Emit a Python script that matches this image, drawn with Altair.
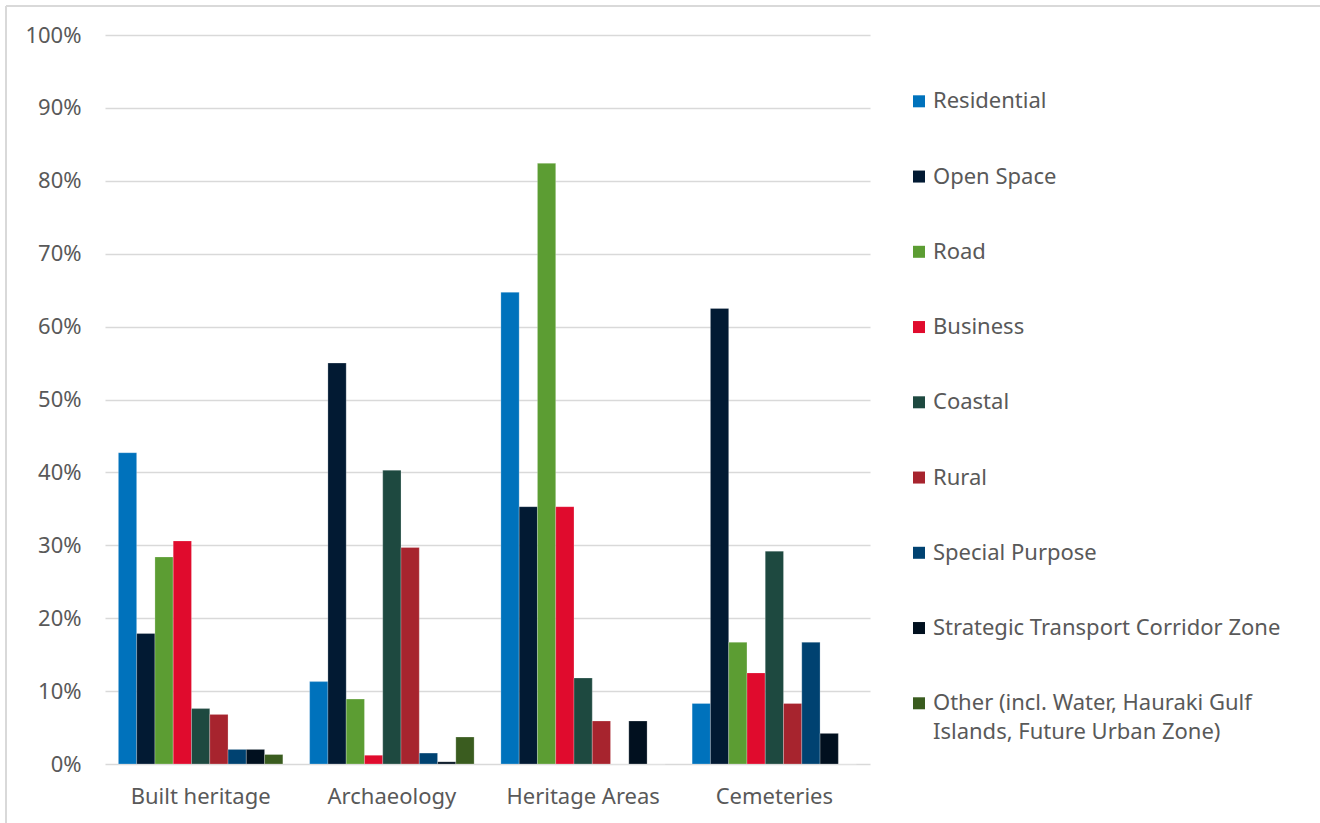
import altair as alt
import pandas as pd

FONT = "Noto Sans"
FONT_SIZE = 22
TEXT_GREY = "#595959"
LINE_GREY = "#d9d9d9"

categories = ["Built heritage", "Archaeology", "Heritage Areas", "Cemeteries"]
zones = [
    "Residential",
    "Open Space",
    "Road",
    "Business",
    "Coastal",
    "Rural",
    "Special Purpose",
    "Strategic Transport Corridor Zone",
    "Other (incl. Water, Hauraki Gulf Islands, Future Urban Zone)",
]
zone_colors = [
    "#0072bc", "#021a33", "#5c9d33", "#e00b2d", "#1e4940",
    "#a7242e", "#004271", "#01101f", "#3a5c1f",
]

# Share (%) of each heritage type falling in each zone, in zone order
built_heritage = [42.7, 17.9, 28.4, 30.6, 7.6, 6.8, 2.0, 2.0, 1.3]
archaeology = [11.3, 55.0, 8.9, 1.2, 40.3, 29.7, 1.5, 0.3, 3.7]
heritage_areas = [64.7, 35.3, 82.4, 35.3, 11.8, 5.9, 0.0, 5.9, 0.0]
cemeteries = [8.3, 62.5, 16.7, 12.5, 29.2, 8.3, 16.7, 4.2, 0.0]

# Legend text, with the long last entry wrapped onto a second line
legend_line1 = zones[:-1] + ["Other (incl. Water, Hauraki Gulf"]
legend_line2 = [""] * (len(zones) - 1) + ["Islands, Future Urban Zone)"]

y_ticks = list(range(0, 101, 10))

rows = []
for cat, vals in zip(categories, [built_heritage, archaeology, heritage_areas, cemeteries]):
    for zone, v in zip(zones, vals):
        rows.append({"Category": cat, "Zone": zone, "Share": v})
bars_df = pd.DataFrame(rows)
legend_df = pd.DataFrame({"Zone": zones, "line1": legend_line1, "line2": legend_line2})

color_scale = alt.Scale(domain=zones, range=zone_colors)

bars = alt.Chart(bars_df).mark_bar(stroke="white", strokeWidth=0.4, strokeOpacity=0.6).encode(
    x=alt.X(
        "Category:N",
        sort=categories,
        scale=alt.Scale(paddingInner=0.14, paddingOuter=0.07),
        axis=alt.Axis(
            title=None, labelAngle=0, domain=False, ticks=False,
            labelFontSize=FONT_SIZE, labelColor=TEXT_GREY, labelFont=FONT, labelPadding=22,
        ),
    ),
    xOffset=alt.XOffset("Zone:N", sort=zones, scale=alt.Scale(paddingInner=0, paddingOuter=0)),
    y=alt.Y(
        "Share:Q",
        scale=alt.Scale(domain=[0, 100], nice=False),
        axis=alt.Axis(
            title=None, values=y_ticks, labelExpr="datum.value + '%'",
            grid=True, gridColor=LINE_GREY, gridWidth=1.5,
            domain=False, ticks=False,
            labelFontSize=FONT_SIZE, labelColor=TEXT_GREY, labelFont=FONT, labelPadding=24,
        ),
    ),
    color=alt.Color("Zone:N", scale=color_scale, legend=None),
)

legend_y = alt.Y(
    "Zone:N", sort=zones, axis=None,
    scale=alt.Scale(type="point", padding=0.844, align=0.522),
)

swatches = alt.Chart(legend_df).mark_square(size=144, opacity=1).encode(
    x=alt.value(814),
    y=legend_y,
    color=alt.Color("Zone:N", scale=color_scale, legend=None),
)

labels1 = alt.Chart(legend_df).mark_text(
    align="left", baseline="middle", fontSize=FONT_SIZE, font=FONT, color=TEXT_GREY
).encode(x=alt.value(828), y=legend_y, text="line1:N")

labels2 = alt.Chart(legend_df).mark_text(
    align="left", baseline="middle", fontSize=FONT_SIZE, font=FONT, color=TEXT_GREY, dy=29
).encode(x=alt.value(828), y=legend_y, text="line2:N")

# Light frame around the chart (left and top edges)
frame_df = pd.DataFrame({"k": [0]})
frame_left = alt.Chart(frame_df).mark_rule(color=LINE_GREY, strokeWidth=2).encode(
    x=alt.value(-99), y=alt.value(-29), y2=alt.value(800)
)
frame_top = alt.Chart(frame_df).mark_rule(color=LINE_GREY, strokeWidth=2).encode(
    x=alt.value(-99), x2=alt.value(1230), y=alt.value(-29)
)

chart = (
    alt.layer(frame_left, frame_top, bars, swatches, labels1, labels2)
    .resolve_scale(y="independent", x="independent")
    .properties(
        width=765,
        height=729,
        autosize=alt.AutoSizeParams(type="none"),
        padding={"left": 105, "top": 35, "right": 450, "bottom": 59},
    )
    .configure(font=FONT)
    .configure_view(stroke=None, strokeWidth=0)
)

chart.save("out.html", embed_options={"renderer": "svg", "actions": False})
